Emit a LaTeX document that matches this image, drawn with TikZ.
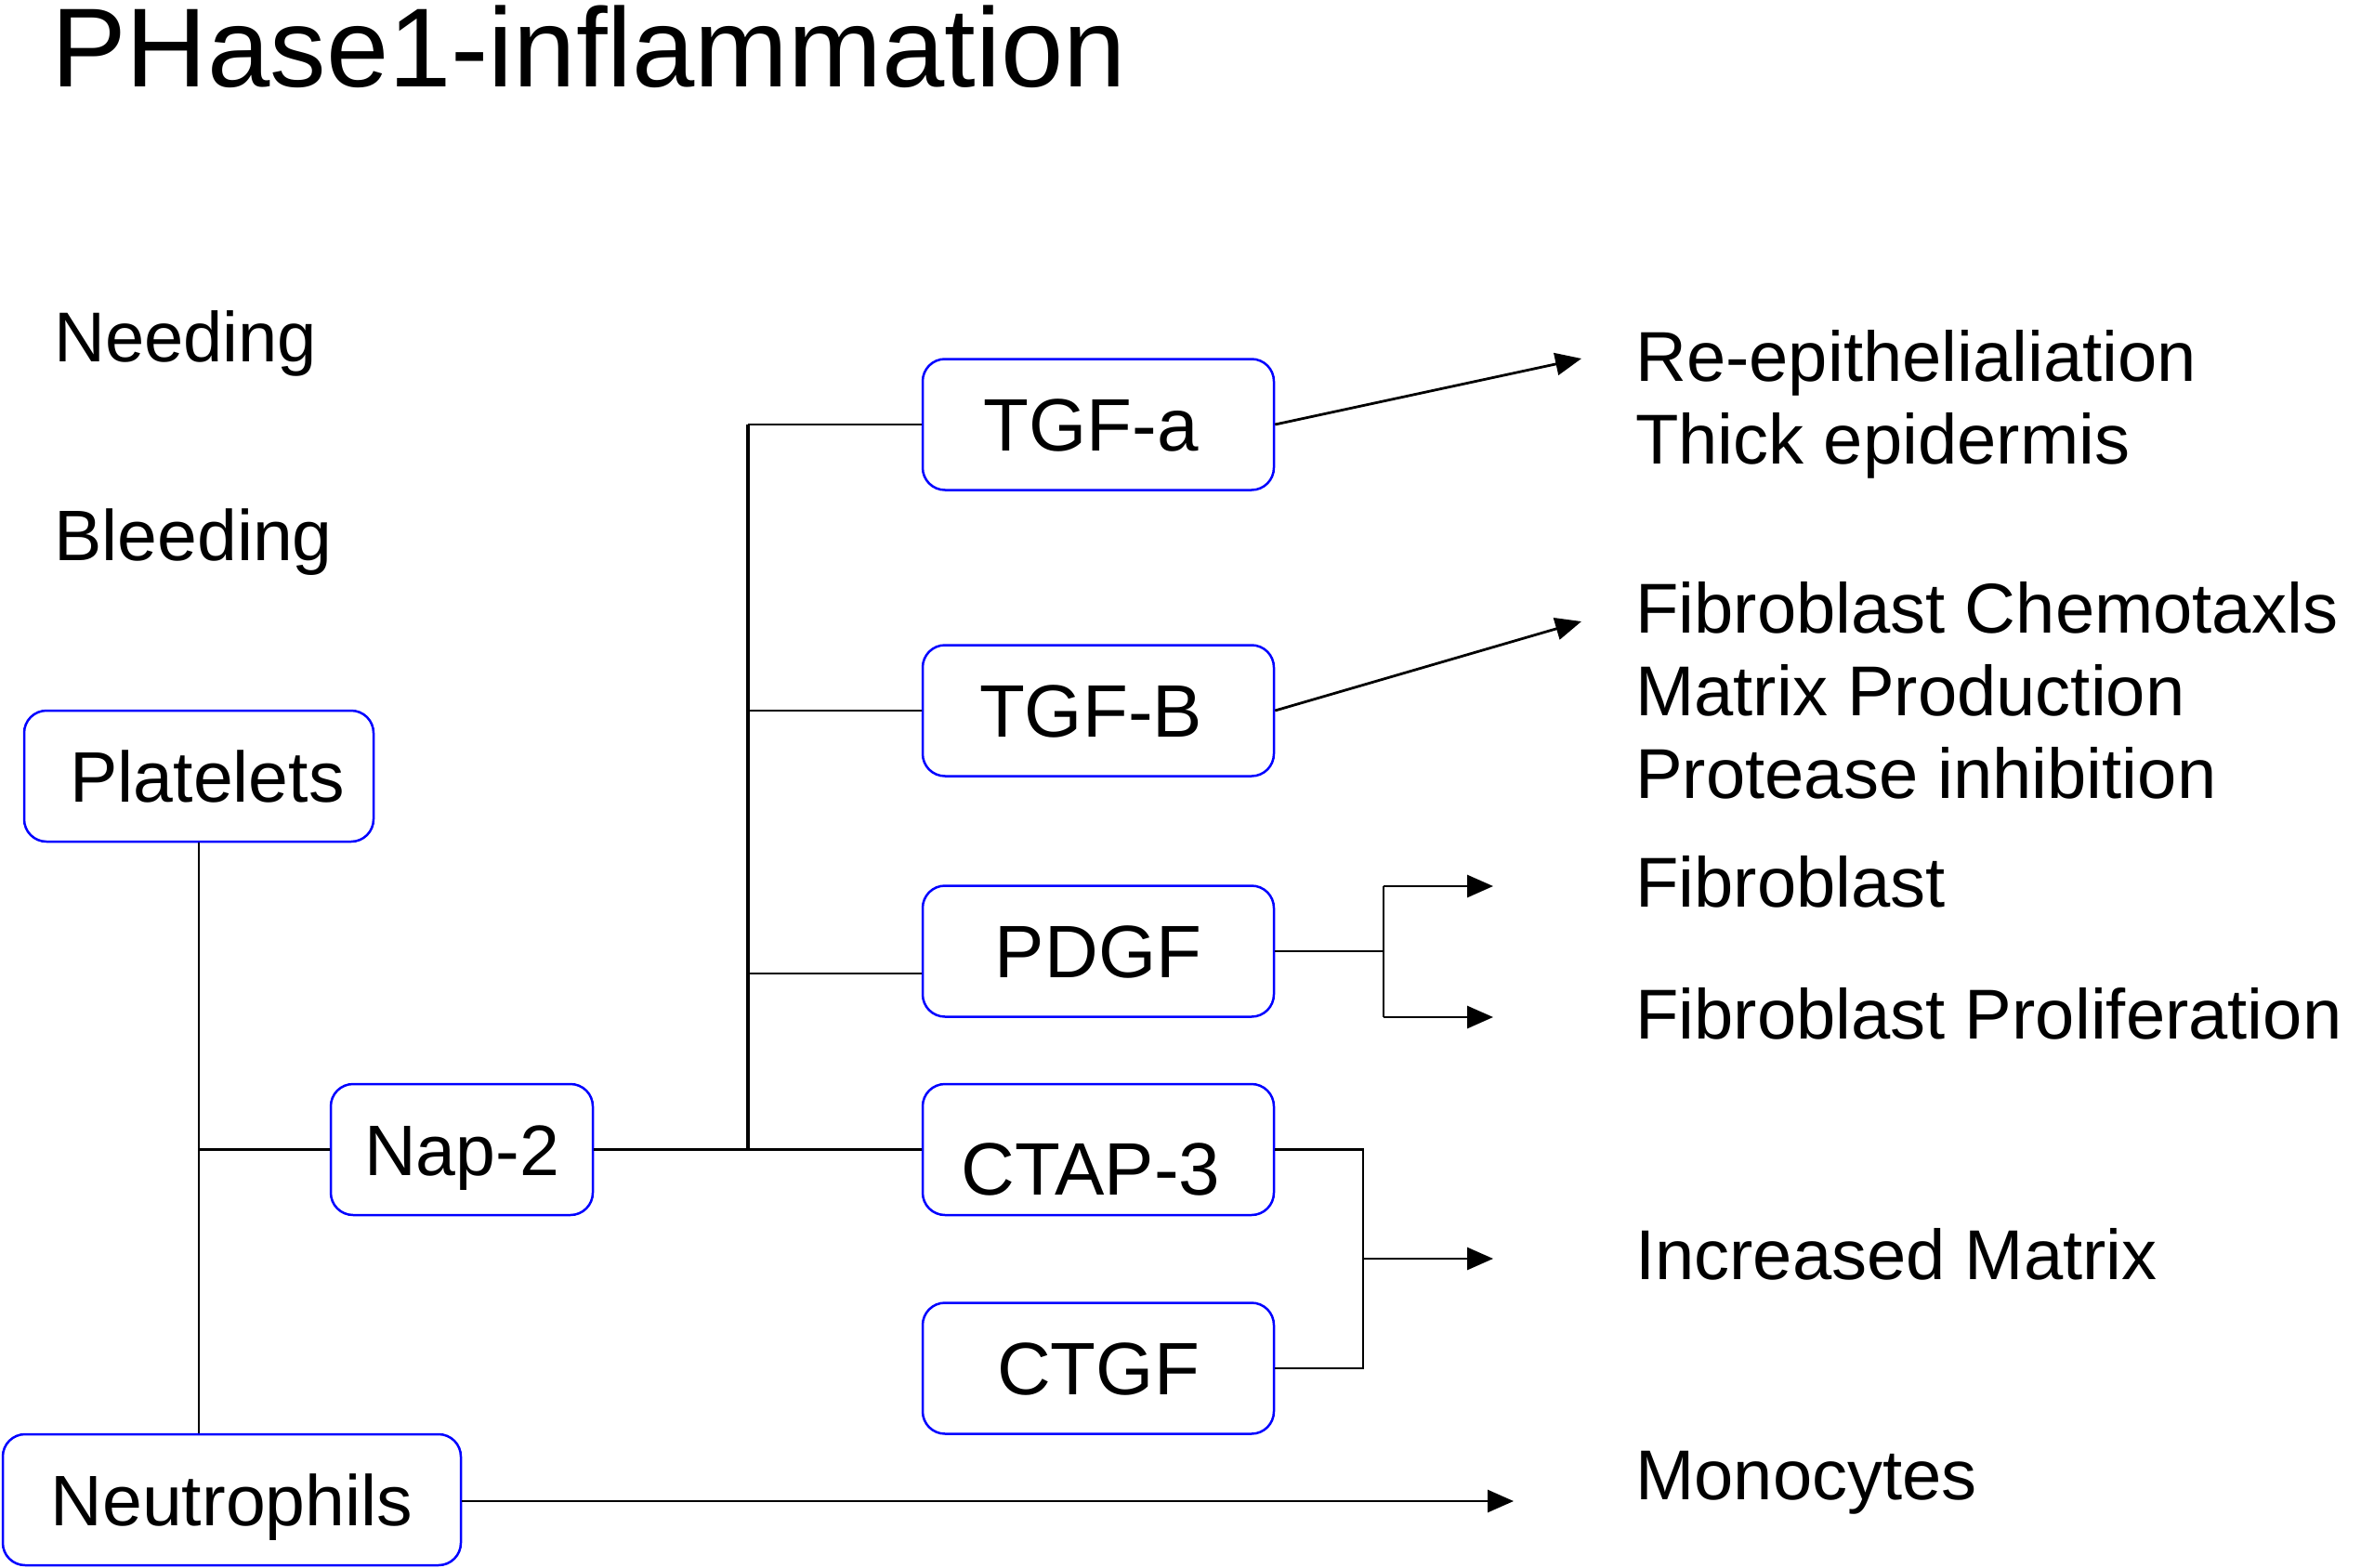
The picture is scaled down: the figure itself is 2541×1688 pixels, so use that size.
\documentclass[tikz,border=0pt]{standalone}
\usepackage{fontspec}
\setmainfont{Liberation Sans}
\usetikzlibrary{arrows.meta}
\begin{document}
\begin{tikzpicture}[x=1pt,y=-1pt,
  box/.style={draw=blue, line width=2.5pt, rounded corners=24pt, inner sep=0pt,
    minimum width=378pt, minimum height=141pt, align=center,
    font=\fontsize{80}{90}\selectfont, text height=57pt, text depth=0pt},
  lbox/.style={box, font=\fontsize{77}{90}\selectfont, text height=55pt},
  lbl/.style={anchor=base west, inner sep=0pt, font=\fontsize{76}{90}\selectfont},
  conn/.style={line width=2.8pt},
  arr/.style={conn, -{Triangle[length=28pt,width=24pt]}}]
\useasboundingbox (0,0) rectangle (2541,1688);

% title and side texts
\node[anchor=base west, inner sep=0pt, font=\fontsize{121}{130}\selectfont] (title) at (55,94) {PHase1-inflammation};
\node[anchor=base west, inner sep=0pt, font=\fontsize{76}{90}\selectfont] (needing) at (58,389) {Needing};
\node[anchor=base west, inner sep=0pt, font=\fontsize{77}{90}\selectfont] (bleeding) at (58,603) {Bleeding};

% boxes
\node[lbox, minimum width=376pt] (plat) at (214,835.5) {\hspace*{18pt}Platelets};
\node[lbox, minimum width=282pt] (nap) at (497,1237.5) {Nap-2};
\node[lbox, minimum width=493pt] (neut) at (249.5,1614.5) {Neutrophils};
\node[box] (tgfa) at (1182,457) {TGF-a\hspace*{16pt}};
\node[box] (tgfb) at (1182,765) {TGF-B\hspace*{16pt}};
\node[box] (pdgf) at (1182,1024) {PDGF};
\node[box] (ctap) at (1182,1237.5) {\raisebox{-20pt}{CTAP-3}\hspace*{16pt}};
\node[box] (ctgf) at (1182,1473) {CTGF};

% right-hand labels
\node[lbl] (re) at (1760,410) {Re-epithelialiation};
\node[lbl] (thick) at (1760,499) {Thick epidermis};
\node[lbl] (fchem) at (1760,681) {Fibroblast Chemotaxls};
\node[lbl] (mprod) at (1760,770) {Matrix Production};
\node[lbl] (prot) at (1760,859) {Protease inhibition};
\node[lbl] (fib) at (1760,976) {Fibroblast};
\node[lbl] (fprol) at (1760,1118) {Fibroblast Proliferation};
\node[lbl] (incm) at (1760,1377) {Increased Matrix};
\node[lbl] (mono) at (1760,1614) {Monocytes};

% helper coordinates
\coordinate (pj) at (214,1237.5);
\coordinate (bustop) at (805,457);
\coordinate (busbot) at (805,1237.5);
\coordinate (busb) at (805,765);
\coordinate (busp) at (805,1048);
\coordinate (tgfaend) at (1702,386);
\coordinate (tgfbend) at (1702,669);
\coordinate (pj1) at (1489,1024);
\coordinate (pdgfup) at (1489,954);
\coordinate (pdgfdn) at (1489,1095);
\coordinate (pdgfupend) at (1607,954);
\coordinate (pdgfdnend) at (1607,1095);
\coordinate (cj1) at (1467,1237.5);
\coordinate (cj2) at (1467,1473);
\coordinate (cjm) at (1467,1355);
\coordinate (cend) at (1607,1355);
\coordinate (neutend) at (1629,1616);

% left tree
\draw[conn] (plat.south) -- (plat.south |- neut.north);
\draw[conn] (pj) -- (nap.west);
\draw[conn] (nap.east) -- (ctap.west);

% bus
\draw[line width=4.5pt] (bustop) -- (busbot);
\draw[conn] (bustop) -- (tgfa.west);
\draw[conn] (busb) -- (tgfb.west);
\draw[conn] (busp) -- (busp -| pdgf.west);

% outputs
\draw[arr] (tgfa.east) -- (tgfaend);
\draw[arr] (tgfb.east) -- (tgfbend);
\draw[conn] (pdgf.east) -- (pj1);
\draw[conn] (pdgfup) -- (pdgfdn);
\draw[arr] (pdgfup) -- (pdgfupend);
\draw[arr] (pdgfdn) -- (pdgfdnend);
\draw[conn] (ctap.east) -- (cj1) -- (cj2) -- (ctgf.east);
\draw[arr] (cjm) -- (cend);
\draw[arr] (neut.east |- neutend) -- (neutend);
\end{tikzpicture}
\end{document}
